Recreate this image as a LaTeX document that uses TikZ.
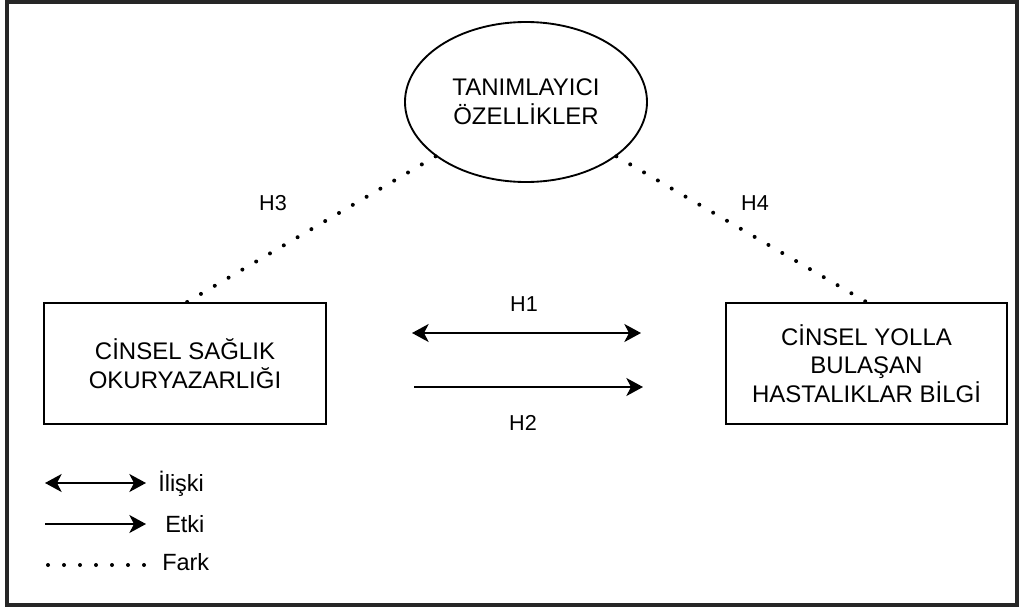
\documentclass[tikz,border=0pt]{standalone}
\usepackage{fontspec}
\setmainfont{Liberation Sans}
\usetikzlibrary{shapes.geometric,arrows.meta,calc}
\tikzset{
  px/.style={x=0.75pt,y=-0.75pt},
  boxnode/.style={draw,line width=1.4pt,rectangle,minimum width=211pt,minimum height=90.75pt,inner sep=0pt,align=center,
    font=\fontsize{18pt}{21.4pt}\selectfont},
  ellnode/.style={draw,line width=1.4pt,ellipse,minimum width=181.5pt,minimum height=120pt,inner sep=0pt,align=center,
    font=\fontsize{18pt}{22pt}\selectfont},
  hlabel/.style={anchor=base,inner sep=0pt,font=\fontsize{16.2pt}{18pt}\selectfont},
  leglabel/.style={anchor=base west,inner sep=0pt,font=\fontsize{17.6pt}{20pt}\selectfont},
  fark/.style={line width=3pt,line cap=round,dash pattern=on 0pt off 12pt},
  conn/.style={line width=1.5pt},
  >={Stealth[length=12.5pt,width=13.5pt,inset=3.5pt]},
}
\begin{document}
\begin{tikzpicture}[px]
\useasboundingbox (0,0) rectangle (1020,607);
\draw[line width=2.4pt,black!85] (7,2) rectangle (1017,605);

\node[ellnode] (ell) at (526,102) {TANIMLAYICI\\ÖZELLİKLER};
\node[boxnode] (lbox) at (185,363.5) {CİNSEL SAĞLIK\\OKURYAZARLIĞI};
\node[boxnode] (rbox) at (866.5,363.5) {CİNSEL YOLLA\\BULAŞAN\\HASTALIKLAR BİLGİ};

\draw[fark] (ell.211) -- ($(lbox.north)+(2,0)$);
\draw[fark] (ell.329) -- (rbox.north);

\coordinate (h1a) at (412,333);
\coordinate (h1b) at (641,333);
\coordinate (h2a) at (414,387);
\coordinate (h2b) at (643,387);
\draw[conn,<->] (h1a) -- (h1b);
\draw[conn,->] (h2a) -- (h2b);

\node[hlabel] (lh1) at (524,311) {H1};
\node[hlabel] (lh2) at (523,430) {H2};
\node[hlabel] (lh3) at (273,210) {H3};
\node[hlabel] (lh4) at (755,210) {H4};

% legend
\coordinate (l1a) at (45,483);
\coordinate (l1b) at (146,483);
\coordinate (l2a) at (45,524);
\coordinate (l2b) at (146,524);
\coordinate (l3a) at (48,565);
\coordinate (l3b) at (146,565);
\draw[conn,<->] (l1a) -- (l1b);
\draw[conn,->] (l2a) -- (l2b);
\draw[fark] (l3a) -- (l3b);
\node[leglabel] (t1) at (158,491) {İlişki};
\node[leglabel] (t2) at (165,532) {Etki};
\node[leglabel] (t3) at (162,570) {Fark};
\end{tikzpicture}
\end{document}
